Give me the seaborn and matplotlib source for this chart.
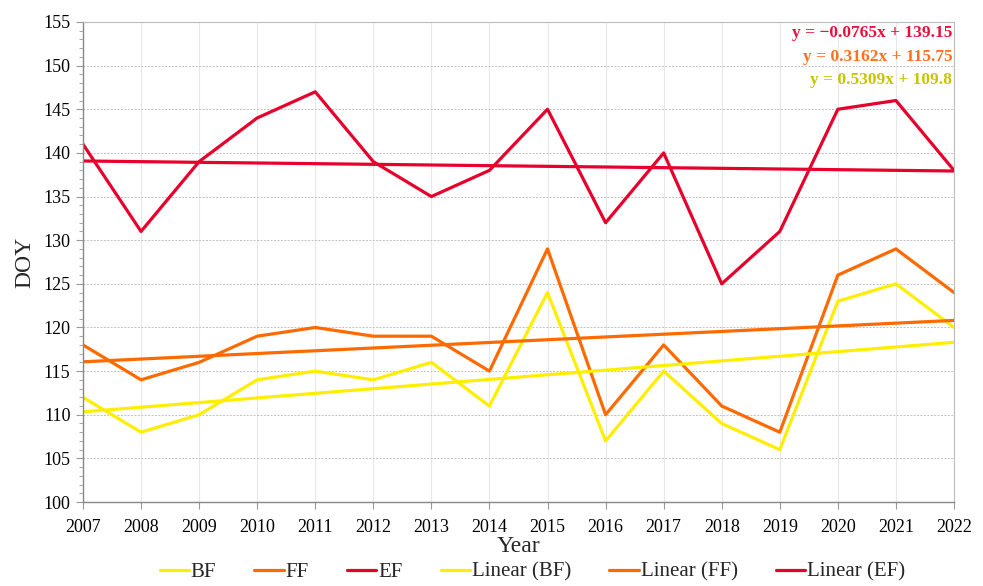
import matplotlib
matplotlib.use("Agg")
import matplotlib.pyplot as plt
import matplotlib.ticker as mticker
import numpy as np
import pandas as pd
import seaborn as sns

years = list(range(2007, 2023))
bf = [112, 108, 110, 114, 115, 114, 116, 111, 124, 107, 115, 109, 106, 123, 125, 120]
ff = [118, 114, 116, 119, 120, 119, 119, 115, 129, 110, 118, 111, 108, 126, 129, 124]
ef = [141, 131, 139, 144, 147, 139, 135, 138, 145, 132, 140, 125, 131, 145, 146, 138]

series_names = ["BF", "FF", "EF"]
slopes = [0.5309, 0.3162, -0.0765]
intercepts = [109.8, 115.75, 139.15]
equations = ["y = 0.5309x + 109.8", "y = 0.3162x + 115.75", "y = \u22120.0765x + 139.15"]

line_colors = {"BF": "#FFEE00", "FF": "#FF6A00", "EF": "#E8002C"}
eq_colors = {"BF": "#C9C400", "FF": "#FF7020", "EF": "#E8103C"}

sns.set_theme(style="white")
plt.rcParams["font.family"] = ["Liberation Serif", "DejaVu Serif"]

fig = plt.figure(figsize=(9.83, 5.86), dpi=100)
ax = fig.add_axes([0.0844, 0.1433, 0.8861, 0.8192])

df = pd.DataFrame({"Year": years, "BF": bf, "FF": ff, "EF": ef})
idx = np.arange(1, len(years) + 1)

for name in series_names:
    sns.lineplot(data=df, x="Year", y=name, ax=ax, color=line_colors[name],
                 linewidth=2.3, label=name)
for name, k, b in zip(series_names, slopes, intercepts):
    trend = pd.DataFrame({"Year": years, "trend": k * idx + b})
    sns.lineplot(data=trend, x="Year", y="trend", ax=ax, color=line_colors[name],
                 linewidth=2.3, label=f"Linear ({name})")

ax.set_xlim(2007, 2022)
ax.set_ylim(100, 155)
ax.set_xticks(years)
ax.yaxis.set_major_locator(mticker.MultipleLocator(5))
ax.yaxis.set_minor_locator(mticker.MultipleLocator(1))
ax.grid(axis="y", which="major", linestyle=(0, (2, 1.5)), color="#c0c0c0", linewidth=0.7)
ax.grid(axis="x", which="major", linestyle="-", color="#e8e8e8", linewidth=0.8)
ax.tick_params(axis="both", which="major", labelsize=13, colors="#000000", length=5,
               width=0.8, direction="out")
ax.tick_params(axis="y", which="minor", length=3, width=0.6, color="#999999", left=True)
ax.tick_params(axis="x", which="major", color="#999999", bottom=True, pad=7)
ax.tick_params(axis="y", which="major", color="#999999", left=True, pad=4)
for side in ["left", "bottom"]:
    ax.spines[side].set_color("#888888")
    ax.spines[side].set_linewidth(1.0)
for side in ["top", "right"]:
    ax.spines[side].set_color("#bbbbbb")
    ax.spines[side].set_linewidth(0.8)

ax.set_ylabel("DOY", fontsize=17, labelpad=6)
ax.set_xlabel("Year", fontsize=17, labelpad=0)

ypos = [0.879, 0.927, 0.976]
for name, eq, yp in zip(series_names, equations, ypos):
    ax.text(0.998, yp, eq, transform=ax.transAxes, ha="right", va="center",
            fontsize=12.5, fontweight="bold", color=eq_colors[name])

h, l = ax.get_legend_handles_labels()
ax.legend(h, l, loc="center", bbox_to_anchor=(0.516, -0.146), ncol=6,
          frameon=False, fontsize=15, handlelength=1.4, handletextpad=0.1,
          columnspacing=1.83, borderaxespad=0, borderpad=0)

fig.savefig("out.png", dpi=100)
